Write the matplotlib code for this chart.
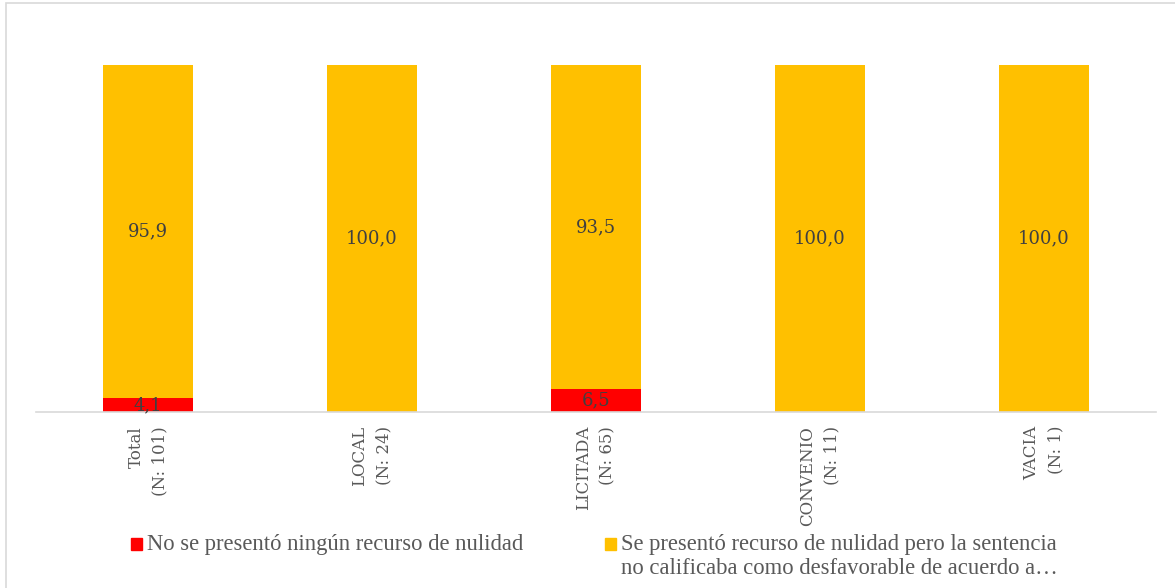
import matplotlib.pyplot as plt
from matplotlib.patches import Rectangle
import numpy as np

plt.rcParams["font.family"] = ["DejaVu Serif"]

categories = ["Total\n(N: 101)", "LOCAL\n(N: 24)", "LICITADA\n(N: 65)", "CONVENIO\n(N: 11)", "VACIA\n(N: 1)"]
no_recurso = [4.1, 0.0, 6.5, 0.0, 0.0]
recurso_no_desfav = [95.9, 100.0, 93.5, 100.0, 100.0]

series_names = [
    "No se presentó ningún recurso de nulidad",
    "Se presentó recurso de nulidad pero la sentencia\nno calificaba como desfavorable de acuerdo a…",
]
series_colors = ["#ff0000", "#ffc000"]
text_color = "#404040"
grey = "#595959"


def fmt_es(v):
    return "" if v == 0 else f"{v:.1f}".replace(".", ",")


fig = plt.figure(figsize=(11.75, 5.88), dpi=100)
ax = fig.add_axes([36 / 1175, 1 - 412 / 588, 1120 / 1175, 347 / 588])

x = np.arange(len(categories))
bottom = np.zeros(len(categories))
for vals, color in zip([no_recurso, recurso_no_desfav], series_colors):
    bars = ax.bar(x, vals, width=0.4, bottom=bottom, color=color, linewidth=0)
    ax.bar_label(bars, labels=[fmt_es(v) for v in vals], label_type="center",
                 fontsize=13, color=text_color)
    bottom += np.array(vals)

ax.set_xlim(-0.5, len(categories) - 0.5)
ax.set_ylim(0, 100)
ax.set_xticks(x)
ax.set_xticklabels(categories, rotation=90, ha="center", va="top", ma="right",
                   fontsize=12, color=grey, linespacing=1.55)
ax.tick_params(axis="x", length=0, pad=10)
ax.set_yticks([])
for side in ["top", "right", "left"]:
    ax.spines[side].set_visible(False)
ax.spines["bottom"].set_color("#d9d9d9")
ax.spines["bottom"].set_linewidth(1.2)

# chart area border (Excel style, cropped on the right/bottom)
fig.patches.append(Rectangle((6 / 1175, -0.1), 1.2, 1.1 - 3.5 / 588,
                             transform=fig.transFigure, fill=False,
                             edgecolor="#d9d9d9", linewidth=1.2))

# legend, drawn by hand so the square sits on the first line
legend_x = [131 / 1175, 605 / 1175]
legend_y = 1 - 544 / 588
for lx, name, color in zip(legend_x, series_names, series_colors):
    fig.patches.append(Rectangle((lx, legend_y - 6 / 588), 11 / 1175, 12 / 588,
                                 transform=fig.transFigure, color=color))
    fig.text(lx + 16 / 1175, legend_y + 10 / 588, name, fontsize=16.3, color=grey,
             family="Liberation Serif", ha="left", va="top", linespacing=1.2)

fig.savefig("out.png", dpi=100, facecolor="white")
